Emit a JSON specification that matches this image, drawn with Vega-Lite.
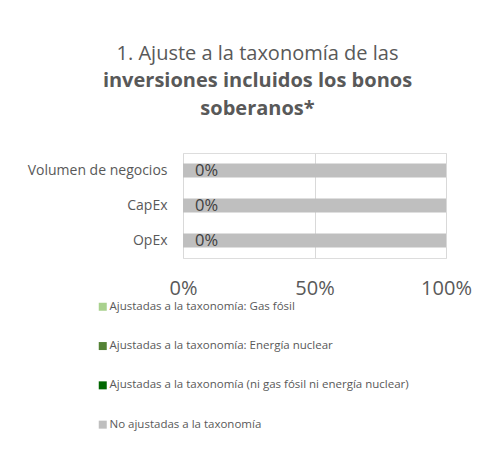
{
  "$schema": "https://vega.github.io/schema/vega-lite/v6.json",
  "width": 263,
  "height": 105,
  "autosize": {"type": "none"},
  "padding": {"left": 183, "top": 153, "right": 51, "bottom": 197},
  "background": "white",
  "title": {
    "text": ["1. Ajuste a la taxonomía de las"],
    "subtitle": ["inversiones incluidos los bonos", "soberanos*"],
    "anchor": "middle",
    "frame": "group",
    "dx": -57,
    "offset": 34,
    "font": "Open Sans",
    "fontSize": 20,
    "fontWeight": "normal",
    "color": "#595959",
    "lineHeight": 28,
    "subtitleFont": "Open Sans",
    "subtitleFontSize": 20,
    "subtitleFontWeight": "bold",
    "subtitleColor": "#595959",
    "subtitleLineHeight": 28,
    "subtitlePadding": 7
  },
  "data": {
    "values": [
      {"cat": "Volumen de negocios", "series": "Ajustadas a la taxonomía: Gas fósil", "value": 0},
      {"cat": "Volumen de negocios", "series": "Ajustadas a la taxonomía: Energía nuclear", "value": 0},
      {"cat": "Volumen de negocios", "series": "Ajustadas a la taxonomía (ni gas fósil ni energía nuclear)", "value": 0},
      {"cat": "Volumen de negocios", "series": "No ajustadas a la taxonomía", "value": 1},
      {"cat": "CapEx", "series": "Ajustadas a la taxonomía: Gas fósil", "value": 0},
      {"cat": "CapEx", "series": "Ajustadas a la taxonomía: Energía nuclear", "value": 0},
      {"cat": "CapEx", "series": "Ajustadas a la taxonomía (ni gas fósil ni energía nuclear)", "value": 0},
      {"cat": "CapEx", "series": "No ajustadas a la taxonomía", "value": 1},
      {"cat": "OpEx", "series": "Ajustadas a la taxonomía: Gas fósil", "value": 0},
      {"cat": "OpEx", "series": "Ajustadas a la taxonomía: Energía nuclear", "value": 0},
      {"cat": "OpEx", "series": "Ajustadas a la taxonomía (ni gas fósil ni energía nuclear)", "value": 0},
      {"cat": "OpEx", "series": "No ajustadas a la taxonomía", "value": 1}
    ]
  },
  "encoding": {
    "y": {
      "field": "cat",
      "type": "nominal",
      "sort": ["Volumen de negocios", "CapEx", "OpEx"],
      "scale": {"paddingInner": 0.6, "paddingOuter": 0.3},
      "axis": {
        "title": null,
        "domain": false,
        "ticks": false,
        "labelFont": "Open Sans",
        "labelFontSize": 14,
        "labelColor": "#595959",
        "labelPadding": 16
      }
    }
  },
  "layer": [
    {
      "mark": {"type": "bar"},
      "encoding": {
        "x": {
          "field": "value",
          "type": "quantitative",
          "stack": "normalize",
          "scale": {"domain": [0, 1], "nice": false},
          "axis": {
            "title": null,
            "format": ".0%",
            "values": [0, 0.5, 1],
            "grid": true,
            "gridColor": "#D9D9D9",
            "gridWidth": 1,
            "domain": false,
            "ticks": false,
            "labelFlush": false,
            "labelFont": "Open Sans",
            "labelFontSize": 20,
            "labelColor": "#595959",
            "labelPadding": 20
          }
        },
        "color": {
          "field": "series",
          "type": "nominal",
          "sort": null,
          "scale": {
            "domain": [
              "Ajustadas a la taxonomía: Gas fósil",
              "Ajustadas a la taxonomía: Energía nuclear",
              "Ajustadas a la taxonomía (ni gas fósil ni energía nuclear)",
              "No ajustadas a la taxonomía"
            ],
            "range": ["#A9D18E", "#548235", "#006600", "#BFBFBF"]
          },
          "legend": {
            "title": null,
            "orient": "none",
            "legendX": -86,
            "legendY": 148,
            "direction": "vertical",
            "symbolType": "square",
            "symbolSize": 64,
            "symbolStrokeWidth": 0,
            "labelFont": "Open Sans",
            "labelFontSize": 11.5,
            "labelColor": "#595959",
            "labelOffset": 1,
            "rowPadding": 26.3,
            "labelLimit": 400
          }
        },
        "order": {"field": "series", "type": "nominal", "sort": "ascending"}
      }
    },
    {
      "transform": [{"filter": "datum.series === 'Ajustadas a la taxonomía (ni gas fósil ni energía nuclear)'"}],
      "mark": {"type": "text", "align": "left", "dx": 12, "font": "Open Sans", "fontSize": 16.5, "color": "#404040"},
      "encoding": {
        "x": {"field": "value", "type": "quantitative", "stack": null},
        "text": {"field": "value", "type": "quantitative", "format": ".0%"}
      }
    }
  ]
}
